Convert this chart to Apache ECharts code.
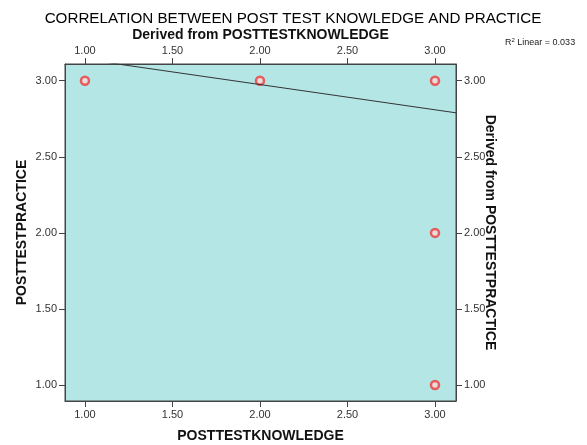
<!DOCTYPE html>
<html><head><meta charset="utf-8">
<script src="https://cdn.jsdelivr.net/npm/echarts@6/dist/echarts.min.js"></script>
<style>html,body{margin:0;padding:0;background:#fff}#c{width:587px;height:445px}</style>
</head><body><div id="c"></div>
<script>
const knowledge = [1, 2, 3, 3, 3];
const practice  = [3, 3, 3, 2, 1];
const tickValues = [1, 1.5, 2, 2.5, 3];
const fitIntercept = 3.307;
const fitSlope = -0.166;
const r2Text = '0.033';

const xMin = 0.886, xMax = 3.12, yMin = 0.895, yMax = 3.11;
const points = knowledge.map((k, i) => [k, practice[i]]);
const fitLine = [xMin, xMax].map(x => [x, fitIntercept + fitSlope * x]);

const axisCommon = {
  type: 'value',
  axisLine: { show: true, lineStyle: { color: '#444', width: 1 } },
  axisTick: { show: true, inside: false, length: 6, lineStyle: { color: '#444' }, customValues: tickValues },
  axisLabel: { color: '#333', fontSize: 11, fontFamily: 'Liberation Sans', formatter: v => v.toFixed(2), customValues: tickValues, margin: 8 },
  splitLine: { show: false },
  nameLocation: 'middle',
  nameMoveOverlap: false,
  nameTextStyle: { color: '#111', fontSize: 14, fontWeight: 'bold', fontFamily: 'Liberation Sans' }
};

const chart = echarts.init(document.getElementById('c'));
chart.setOption({
  animation: false,
  title: [
    { text: 'CORRELATION BETWEEN POST TEST KNOWLEDGE AND PRACTICE', left: 288, textAlign: 'center', top: 6,
      textStyle: { fontSize: 15.2, fontWeight: 'normal', color: '#000', fontFamily: 'Liberation Sans' } },
    { text: '{a|R}{s|2}{a| Linear = ' + r2Text + '}', left: 500, top: 32,
      textStyle: { rich: { a: { fontSize: 9, fontWeight: 'normal', color: '#222', fontFamily: 'Liberation Sans' }, s: { fontSize: 6, fontWeight: 'normal', color: '#222', verticalAlign: 'top', padding: [0,0,5,0] } } } }
  ],
  grid: { left: 65, right: 131, top: 64, bottom: 44, containLabel: false, outerBoundsMode: 'none', show: true, backgroundColor: '#b4e6e6', borderColor: '#444', borderWidth: 1 },
  xAxis: [
    Object.assign({}, axisCommon, { position: 'bottom', min: xMin, max: xMax, name: 'POSTTESTKNOWLEDGE', nameGap: 28 }),
    Object.assign({}, axisCommon, { position: 'top', min: xMin, max: xMax, name: 'Derived from POSTTESTKNOWLEDGE', nameGap: 22 })
  ],
  yAxis: [
    Object.assign({}, axisCommon, { position: 'left', min: yMin, max: yMax, name: 'POSTTESTPRACTICE', nameGap: 36 }),
    Object.assign({}, axisCommon, { position: 'right', min: yMin, max: yMax, name: 'Derived from POSTTESTPRACTICE', nameGap: 27, nameRotate: -90 })
  ],
  series: [
    { type: 'line', data: fitLine, symbol: 'none', clip: true, lineStyle: { color: '#333', width: 1 }, silent: true },
    { type: 'scatter', data: points, symbol: 'circle', symbolSize: 8,
      itemStyle: { color: '#f6dcdc', borderColor: '#ee3a3a', borderWidth: 2.5 } }
  ]
});
</script></body></html>
